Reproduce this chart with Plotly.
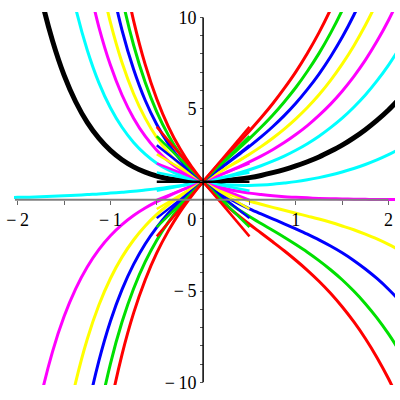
import plotly.graph_objects as go

# Shared x grid (step 0.125)
X = [-2.125, -2.0, -1.875, -1.75, -1.625, -1.5, -1.375, -1.25, -1.125, -1.0,
     -0.875, -0.75, -0.625, -0.5, -0.375, -0.25, -0.125, 0.0, 0.125, 0.25,
     0.375, 0.5, 0.625, 0.75, 0.875, 1.0, 1.125, 1.25, 1.375, 1.5,
     1.625, 1.75, 1.875, 2.0, 2.125]

# curves: (first x, y-values)
red_up = (-1.125, [-14.95, -11.33, -8.48, -6.21, -4.39, -2.91, -1.70, -0.67, 0.21, 1.00,
                   1.72, 2.41, 3.09, 3.78, 4.50, 5.27, 6.11, 7.02, 8.04, 9.17, 10.44, 11.87])
green_up = (-1.25, [-15.57, -11.89, -8.99, -6.70, -4.87, -3.40, -2.21, -1.22, -0.38, 0.35,
                    1.00, 1.61, 2.19, 2.77, 3.36, 3.98, 4.64, 5.37, 6.16, 7.05,
                    8.03, 9.14, 10.39, 11.80])
blue_up = (-1.375, [-15.14, -11.61, -8.84, -6.65, -4.92, -3.54, -2.42, -1.51, -0.74, -0.09,
                    0.48, 1.00, 1.49, 1.96, 2.44, 2.93, 3.45, 4.01, 4.62, 5.30,
                    6.06, 6.90, 7.85, 8.91, 10.12, 11.48])
yellow_up = (-1.5, [-13.02, -10.01, -7.64, -5.78, -4.31, -3.14, -2.20, -1.43, -0.80, -0.27,
                    0.20, 0.61, 1.00, 1.37, 1.74, 2.11, 2.50, 2.92, 3.38, 3.88,
                    4.44, 5.06, 5.76, 6.55, 7.44, 8.44, 9.57, 10.85, 12.30])
magenta_up = (-1.875, [-13.97, -10.81, -8.33, -6.40, -4.88, -3.68, -2.73, -1.97, -1.36, -0.86,
                       -0.45, -0.10, 0.21, 0.49, 0.75, 1.00, 1.25, 1.51, 1.78, 2.08,
                       2.40, 2.75, 3.14, 3.58, 4.07, 4.63, 5.25, 5.96, 6.76, 7.66,
                       8.69, 9.85, 11.16])
cyan_up = (-2.125, [0.12, 0.14, 0.15, 0.17, 0.20, 0.22, 0.25, 0.29, 0.32, 0.37,
                    0.42, 0.47, 0.54, 0.61, 0.69, 0.78, 0.88, 1.00, 1.13, 1.28,
                    1.46, 1.65, 1.87, 2.12, 2.40, 2.72, 3.08, 3.49, 3.96, 4.48,
                    5.08, 5.75, 6.52, 7.39, 8.37])
black_mid = (-2.0, [18.29, 14.28, 11.15, 8.73, 6.84, 5.38, 4.25, 3.38, 2.71, 2.20,
                    1.81, 1.52, 1.31, 1.16, 1.07, 1.02, 1.00, 1.02, 1.06, 1.13,
                    1.22, 1.34, 1.49, 1.66, 1.86, 2.09, 2.35, 2.66, 3.00, 3.40,
                    3.85, 4.36, 4.93, 5.59])
cyan_dn = (-1.5, [13.47, 10.51, 8.22, 6.43, 5.05, 3.98, 3.15, 2.51, 2.01, 1.64,
                  1.36, 1.15, 1.00, 0.90, 0.83, 0.80, 0.79, 0.81, 0.85, 0.92,
                  1.00, 1.10, 1.22, 1.36, 1.53, 1.72, 1.94, 2.19, 2.48, 2.80])
magenta_dn = (-1.25, [12.18, 9.49, 7.39, 5.75, 4.48, 3.49, 2.72, 2.12, 1.65, 1.28,
                      1.00, 0.78, 0.61, 0.47, 0.37, 0.29, 0.22, 0.17, 0.14, 0.11,
                      0.08, 0.06, 0.05, 0.04, 0.03, 0.02, 0.02, 0.01])
yellow_dn = (-1.125, [12.54, 9.73, 7.53, 5.82, 4.48, 3.42, 2.59, 1.94, 1.42, 1.00,
                      0.66, 0.38, 0.14, -0.06, -0.24, -0.41, -0.57, -0.73, -0.89, -1.05,
                      -1.23, -1.43, -1.64, -1.88, -2.14, -2.44, -2.77])
blue_dn = (-1.0, [12.07, 9.31, 7.16, 5.46, 4.13, 3.07, 2.23, 1.55, 1.00, 0.54,
                  0.16, -0.18, -0.49, -0.77, -1.04, -1.31, -1.59, -1.88, -2.19, -2.53,
                  -2.90, -3.32, -3.79, -4.31, -4.90, -5.56])
green_dn = (-1.0, [14.41, 11.09, 8.49, 6.45, 4.83, 3.55, 2.52, 1.69, 1.00, 0.42,
                   -0.07, -0.51, -0.91, -1.30, -1.67, -2.05, -2.45, -2.87, -3.33, -3.83,
                   -4.38, -5.00, -5.69, -6.47, -7.35, -8.34])
red_dn = (-0.875, [12.87, 9.83, 7.43, 5.53, 4.02, 2.81, 1.82, 1.00, 0.31, -0.30,
                   -0.84, -1.34, -1.82, -2.30, -2.79, -3.31, -3.86, -4.46, -5.12, -5.86,
                   -6.68, -7.60, -8.64, -9.81, -11.13])

# tangent segments at (0,1), endpoints x=-0.5 and x=0.5
SEG_X = [-0.5, 0.5]
seg_red_up = [-2.0, 4.0]
seg_green_up = [-1.5, 3.5]
seg_blue_up = [-1.0, 3.0]
seg_yellow_up = [-0.5, 2.5]
seg_magenta_up = [0.0, 2.0]
seg_cyan_up = [0.5, 1.5]
seg_black = [1.0, 1.0]
seg_cyan_dn = [1.5, 0.5]
seg_magenta_dn = [2.0, 0.0]
seg_yellow_dn = [2.5, -0.5]
seg_blue_dn = [3.0, -1.0]
seg_green_dn = [3.5, -1.5]
seg_red_dn = [4.0, -2.0]

X_TICKS = [-2, -1.5, -1, -0.5, 0, 0.5, 1, 1.5, 2]
X_TEXT = ["\u2212\u20092", "", "\u2212\u20091", "", "0\u2003\u00a0", "", "1", "", "2"]
Y_TICKS = list(range(-10, 11))
Y_TEXT = ["\u2212\u200910" if v == -10 else "\u2212\u20095" if v == -5 else
          "5" if v == 5 else "10" if v == 10 else "" for v in Y_TICKS]

RED, GREEN, BLUE, YELLOW, MAGENTA, CYAN, BLACK = (
    "#FF0000", "#00E000", "#0000FF", "#FFFF00", "#FF00FF", "#00FFFF", "#000000")

curves = [
    (cyan_up, CYAN), (cyan_dn, CYAN),
    (magenta_up, MAGENTA), (magenta_dn, MAGENTA),
    (yellow_up, YELLOW), (yellow_dn, YELLOW),
    (blue_up, BLUE), (blue_dn, BLUE),
    (green_up, GREEN), (green_dn, GREEN),
    (red_up, RED), (red_dn, RED),
]
segs = [
    (seg_cyan_up, CYAN), (seg_cyan_dn, CYAN),
    (seg_magenta_up, MAGENTA), (seg_magenta_dn, MAGENTA),
    (seg_yellow_up, YELLOW), (seg_yellow_dn, YELLOW),
    (seg_blue_up, BLUE), (seg_blue_dn, BLUE),
    (seg_green_up, GREEN), (seg_green_dn, GREEN),
    (seg_red_up, RED), (seg_red_dn, RED),
    (seg_black, BLACK),
]

fig = go.Figure()


def xs_for(series):
    start, vals = series
    i = X.index(start)
    return X[i:i + len(vals)], vals


for series, col in curves:
    xs, ys = xs_for(series)
    fig.add_trace(go.Scatter(x=xs, y=ys, mode="lines", line=dict(color=col, width=3, shape="spline"),
                             hoverinfo="skip"))
xs, ys = xs_for(black_mid)
fig.add_trace(go.Scatter(x=xs, y=ys, mode="lines", line=dict(color=BLACK, width=5, shape="spline"),
                         hoverinfo="skip"))
for ys, col in segs:
    fig.add_trace(go.Scatter(x=SEG_X, y=ys, mode="lines", line=dict(color=col, width=2.5),
                             hoverinfo="skip"))

XR = [-2.04, 2.07]
YR = [-10.15, 10.3]
font = dict(family="Liberation Serif, Times New Roman, serif", size=18, color="black")

fig.update_layout(
    width=400, height=400,
    margin=dict(l=14, r=5, t=12, b=15),
    paper_bgcolor="white", plot_bgcolor="white",
    showlegend=False,
    xaxis=dict(range=XR, showgrid=False, zeroline=False, showline=False,
               anchor="free", position=(0 - YR[0]) / (YR[1] - YR[0]),
               tickmode="array", tickvals=X_TICKS, ticktext=X_TEXT,
               ticks="outside", ticklen=4, tickwidth=1, tickcolor="#666666",
               tickfont=font, automargin=False),
    yaxis=dict(range=YR, showgrid=False, zeroline=False, showline=False,
               anchor="free", position=(0 - XR[0]) / (XR[1] - XR[0]),
               tickmode="array", tickvals=Y_TICKS, ticktext=Y_TEXT,
               ticks="outside", ticklen=3, tickwidth=1, tickcolor="#555555",
               tickfont=font, automargin=False),
    shapes=[
        dict(type="line", xref="x", yref="y", x0=-2.03, x1=2.0, y0=0, y1=0,
             line=dict(color="#808080", width=2), layer="above"),
        dict(type="line", xref="x", yref="y", x0=0, x1=0, y0=-10, y1=10,
             line=dict(color="black", width=1.5), layer="above"),
    ],
)

fig.write_html("out.html", config={"displayModeBar": False},
               post_script="document.body.style.margin='0';document.body.style.padding='0';")
